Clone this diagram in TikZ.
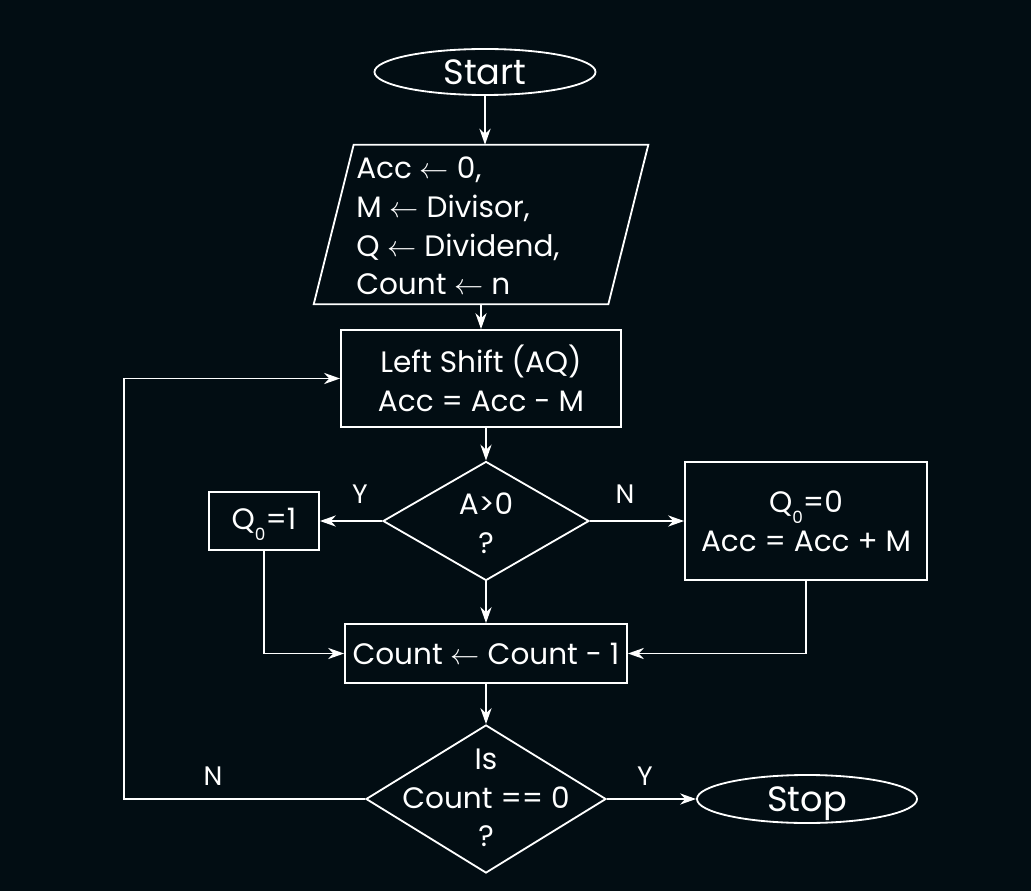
\documentclass[tikz,border=0pt]{standalone}
\usepackage{fontspec}
\setmainfont{Poppins}
\usetikzlibrary{arrows.meta}
\definecolor{bgdark}{RGB}{2,13,19}
\newcommand{\bodyfont}{\fontsize{21}{27.5}\selectfont}
\newcommand{\termfont}{\fontsize{25}{30}\selectfont}
\newcommand{\lblfont}{\fontsize{19}{22}\selectfont}
\newcommand{\subzero}{\raisebox{-8pt}[0pt][0pt]{\fontsize{12}{12}\selectfont 0}}
\usetikzlibrary{shapes.geometric}
\begin{document}
\begin{tikzpicture}[x=0.025cm, y=-0.025cm, >={Stealth[length=4mm, width=2.8mm]},
    box/.style={rectangle, draw=white, line width=1.3pt, text=white, align=center, inner sep=0pt, font=\bodyfont},
    term/.style={ellipse, draw=white, line width=1.3pt, text=white, inner sep=0pt, text depth=0pt, font=\termfont},
    decision/.style={diamond, draw=white, line width=1.3pt, inner sep=1pt},
    txt/.style={text=white, align=center, inner sep=0pt, font=\bodyfont},
    lbl/.style={text=white, font=\lblfont},
    outline/.style={draw=white, line width=1.3pt, line join=miter},
    line/.style={draw=white, line width=1.3pt, ->}]
    \fill[bgdark] (0,0) rectangle (1031,891);

    \node[term, minimum width=5.525cm, minimum height=1.15cm] (start) at (485,72) {Start};
    % input/output parallelogram
    \node[rectangle, inner sep=0pt, minimum width=7.35cm, minimum height=3.975cm] (input) at (481,224.5) {};
    \draw[outline] ([xshift=0.5cm]input.north west) -- ([xshift=0.5cm]input.north east)
        -- ([xshift=-0.5cm]input.south east) -- ([xshift=-0.5cm]input.south west) -- cycle;
    \node[txt, anchor=west, align=left] (inputtext) at (356,226) {Acc $\leftarrow$ 0,\\M $\leftarrow$ Divisor,\\Q $\leftarrow$ Dividend,\\Count $\leftarrow$ n};
    \node[box, minimum width=7cm, minimum height=2.425cm] (shift) at (481,378.5) {Left Shift (AQ)\\Acc = Acc - M};
    \node[decision, minimum width=5.15cm, minimum height=2.975cm] (test) at (486,521) {};
    \node[txt] (testtext) at (486,523) {A>0\\?};
    \node[box, minimum width=2.75cm, minimum height=1.45cm] (setone) at (264,521) {Q\subzero=1};
    \node[box, minimum width=6.05cm, minimum height=2.95cm] (restore) at (806,521) {Q\subzero=0\\Acc = Acc + M};
    \node[box, minimum width=7.05cm, minimum height=1.475cm] (count) at (486,653.5) {Count $\leftarrow$ Count - 1};
    \node[decision, minimum width=6cm, minimum height=3.7cm] (done) at (486,799) {};
    \node[txt] (donetext) at (486,798) {Is\\Count == 0\\?};
    \node[term, minimum width=5.5cm, minimum height=1.2cm] (stop) at (807,799) {Stop};
    \coordinate (back) at (124,799);

    \node[lbl] (yes1) at (360,494) {Y};
    \node[lbl] (no1) at (625,494) {N};
    \node[lbl] (no2) at (213,776) {N};
    \node[lbl] (yes2) at (645,776) {Y};

    \draw[line] (start) -- (start |- input.north);
    \draw[line] (input) -- (shift);
    \draw[line] (shift.south -| test) -- (test);
    \draw[line] (test) -- (setone);
    \draw[line] (test) -- (restore);
    \draw[line] (test) -- (count);
    \draw[line] (setone) |- (count);
    \draw[line] (restore) |- (count);
    \draw[line] (count) -- (done);
    \draw[line] (done) -- (stop);
    \draw[line] (done.west) -- (back) |- (shift);
\end{tikzpicture}
\end{document}
